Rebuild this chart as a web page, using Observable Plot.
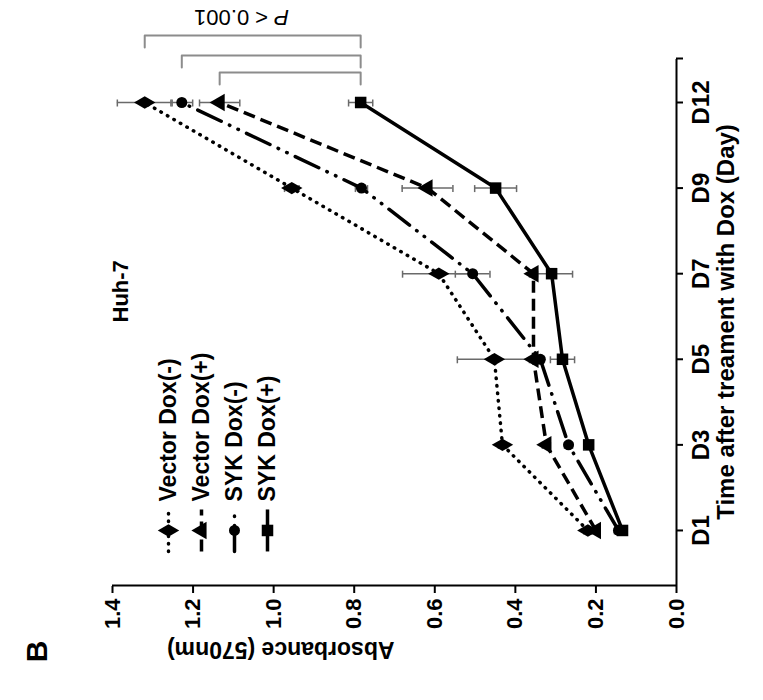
<!DOCTYPE html>
<html><head><meta charset="utf-8">
<script src="https://cdn.jsdelivr.net/npm/d3@7"></script>
<script src="https://cdn.jsdelivr.net/npm/@observablehq/plot@0.6"></script>
<style>
html,body{margin:0;padding:0;background:#fff;}
#wrap{position:relative;width:763px;height:700px;overflow:hidden;background:#fff;}
#wrap svg{position:absolute;left:0;top:700px;transform-origin:0 0;transform:rotate(-90deg);}
</style></head><body><div id="wrap"></div>
<script>
// ---- data ----
const days = ["D1", "D3", "D5", "D7", "D9", "D12"];
const seriesNames = ["Vector Dox(-)", "Vector Dox(+)", "SYK Dox(-)", "SYK Dox(+)"];
const vectorMinus    = [0.220, 0.432, 0.452, 0.590, 0.955, 1.320];
const vectorMinusErr = [0.010, 0.010, 0.092, 0.090, 0.018, 0.068];
const vectorPlus     = [0.200, 0.323, 0.355, 0.355, 0.618, 1.134];
const vectorPlusErr  = [0.010, 0.010, 0.010, 0.010, 0.063, 0.050];
const sykMinus       = [0.144, 0.268, 0.338, 0.506, 0.782, 1.228];
const sykMinusErr    = [0.010, 0.010, 0.010, 0.043, 0.015, 0.027];
const sykPlus        = [0.134, 0.218, 0.283, 0.310, 0.449, 0.784];
const sykPlusErr     = [0.010, 0.010, 0.030, 0.052, 0.052, 0.030];
const yTicks = [0, 0.2, 0.4, 0.6, 0.8, 1.0, 1.2, 1.4];
const pLabel = "P < 0.001";

// ---- styles ----
const styles = [
  {dash: "0.5,7", cap: "round", symbol: "diamond", r: 6.5},
  {dash: "12,6", cap: "butt", symbol: "triangle", r: 6.5},
  {dash: "26,9,0.5,9,0.5,9", cap: "round", symbol: "circle", r: 5.5},
  {dash: null, cap: "butt", symbol: "square", r: 6.5}
];
const values = [vectorMinus, vectorPlus, sykMinus, sykPlus];
const errs = [vectorMinusErr, vectorPlusErr, sykMinusErr, sykPlusErr];

const rows = [];
values.forEach((vals, s) => vals.forEach((v, i) => rows.push({series: s, name: seriesNames[s], i, day: days[i], value: v, err: errs[s][i]})));

// ---- layout ----
const W = 700, H = 763;
const mL = 114, mR = 59, mT = 112, mB = 87;
const X0 = -0.643, X1 = 5.514;
const pxX = (W - mL - mR) / (X1 - X0);     // px per day-index
const pxY = (H - mT - mB) / 1.4;           // px per absorbance unit
const capHalf = 3.5 / pxX;

const marks = [];
// axes lines
marks.push(Plot.ruleX([X0], {stroke: "black", strokeWidth: 2}));
marks.push(Plot.ruleY([0], {stroke: "black", strokeWidth: 2}));
marks.push(Plot.axisY({ticks: yTicks, tickFormat: d3.format(".1f"), tickSize: 7, tickPadding: 6, fontSize: 22, fontWeight: "bold", strokeWidth: 2}));
marks.push(Plot.axisX({ticks: [0, 1, 2, 3, 4, 5, X1], tickFormat: i => days[i] ?? "", tickSize: 7, tickPadding: 8, fontSize: 24, fontWeight: "bold", strokeWidth: 2}));

// error bars
marks.push(Plot.ruleX(rows, {x: "i", y1: d => d.value - d.err, y2: d => d.value + d.err, stroke: "#6a6a6a", strokeWidth: 1.5}));
marks.push(Plot.ruleY(rows, {y: d => d.value - d.err, x1: d => d.i - capHalf, x2: d => d.i + capHalf, stroke: "#6a6a6a", strokeWidth: 1.5}));
marks.push(Plot.ruleY(rows, {y: d => d.value + d.err, x1: d => d.i - capHalf, x2: d => d.i + capHalf, stroke: "#6a6a6a", strokeWidth: 1.5}));

// lines & markers
styles.forEach((st, s) => {
  const sub = rows.filter(d => d.series === s);
  marks.push(Plot.line(sub, {x: "i", y: "value", stroke: "black", strokeWidth: 3.5, strokeDasharray: st.dash, strokeLinecap: st.cap}));
  marks.push(Plot.dot(sub, {x: "i", y: "value", symbol: () => st.symbol, r: st.r, fill: "black", stroke: "none"}));
});

// legend (inside plot, upper-left of the original frame)
const legTop = 1.4 - (168 - mT) / pxY, legStep = 33 / pxY;
const legend = seriesNames.map((name, s) => ({s, name, y: legTop - s * legStep}));
const legHalf = 21 / pxX;
styles.forEach((st, s) => {
  const L = legend[s];
  marks.push(Plot.line([{x: -legHalf, y: L.y}, {x: legHalf, y: L.y}], {x: "x", y: "y", stroke: "black", strokeWidth: 3.5, strokeDasharray: st.dash, strokeLinecap: st.cap}));
  marks.push(Plot.dot([L], {x: () => 0, y: "y", symbol: () => st.symbol, r: st.r, fill: "black"}));
});
marks.push(Plot.text(legend, {x: () => 29 / pxX, y: "y", text: "name", textAnchor: "start", fontSize: 23, fontWeight: "bold"}));

// cell line label
marks.push(Plot.text(["Huh-7"], {x: () => 2.43, y: () => 1.38, textAnchor: "start", fontSize: 22, fontWeight: "bold"}));

// significance brackets (D12 groups vs SYK Dox(+))
const last = days.length - 1;
const bracketFrom = [vectorPlus[last], sykMinus[last], vectorMinus[last]];
const bracketOff = [30, 47, 67];
const leg = 12;
bracketFrom.forEach((v, k) => {
  const bx = last + bracketOff[k] / pxX;
  const lx = bx - leg / pxX;
  marks.push(Plot.line([{x: lx, y: v}, {x: bx, y: v}, {x: bx, y: sykPlus[last]}, {x: lx, y: sykPlus[last]}], {x: "x", y: "y", stroke: "#8c8c8c", strokeWidth: 2}));
});
marks.push(Plot.text([pLabel], {x: () => last + 85 / pxX, y: () => 1.4 - (241 - mT) / pxY, rotate: -90, fontSize: 22, fontWeight: "normal", className: "pval"}));

// axis titles and panel letter
marks.push(Plot.text(["Absorbance (570nm)"], {frameAnchor: "left", dx: -64, rotate: -90, fontSize: 23, fontWeight: "bold"}));
marks.push(Plot.text(["Time after treament with Dox (Day)"], {frameAnchor: "bottom", dy: 57, fontSize: 24, fontWeight: "bold"}));
marks.push(Plot.text(["B"], {frameAnchor: "top-left", dx: -66, dy: -75, textAnchor: "middle", lineAnchor: "middle", fontSize: 30, fontWeight: "bold"}));

const chart = Plot.plot({
  width: W, height: H,
  marginLeft: mL, marginRight: mR, marginTop: mT, marginBottom: mB,
  x: {domain: [X0, X1], axis: null},
  y: {domain: [0, 1.4], axis: null},
  style: {fontFamily: "'Liberation Sans', Arial, sans-serif", background: "white", color: "black", overflow: "visible"},
  marks
});
// italicise the "P" of the p-value label
chart.querySelectorAll("text").forEach(t => {
  if (t.textContent === pLabel) {
    t.textContent = "";
    const a = document.createElementNS("http://www.w3.org/2000/svg", "tspan");
    a.setAttribute("font-style", "italic");
    a.textContent = pLabel.slice(0, 1);
    const b = document.createElementNS("http://www.w3.org/2000/svg", "tspan");
    b.textContent = pLabel.slice(1);
    t.appendChild(a); t.appendChild(b);
  }
});
document.getElementById("wrap").appendChild(chart);
</script>
</body></html>
